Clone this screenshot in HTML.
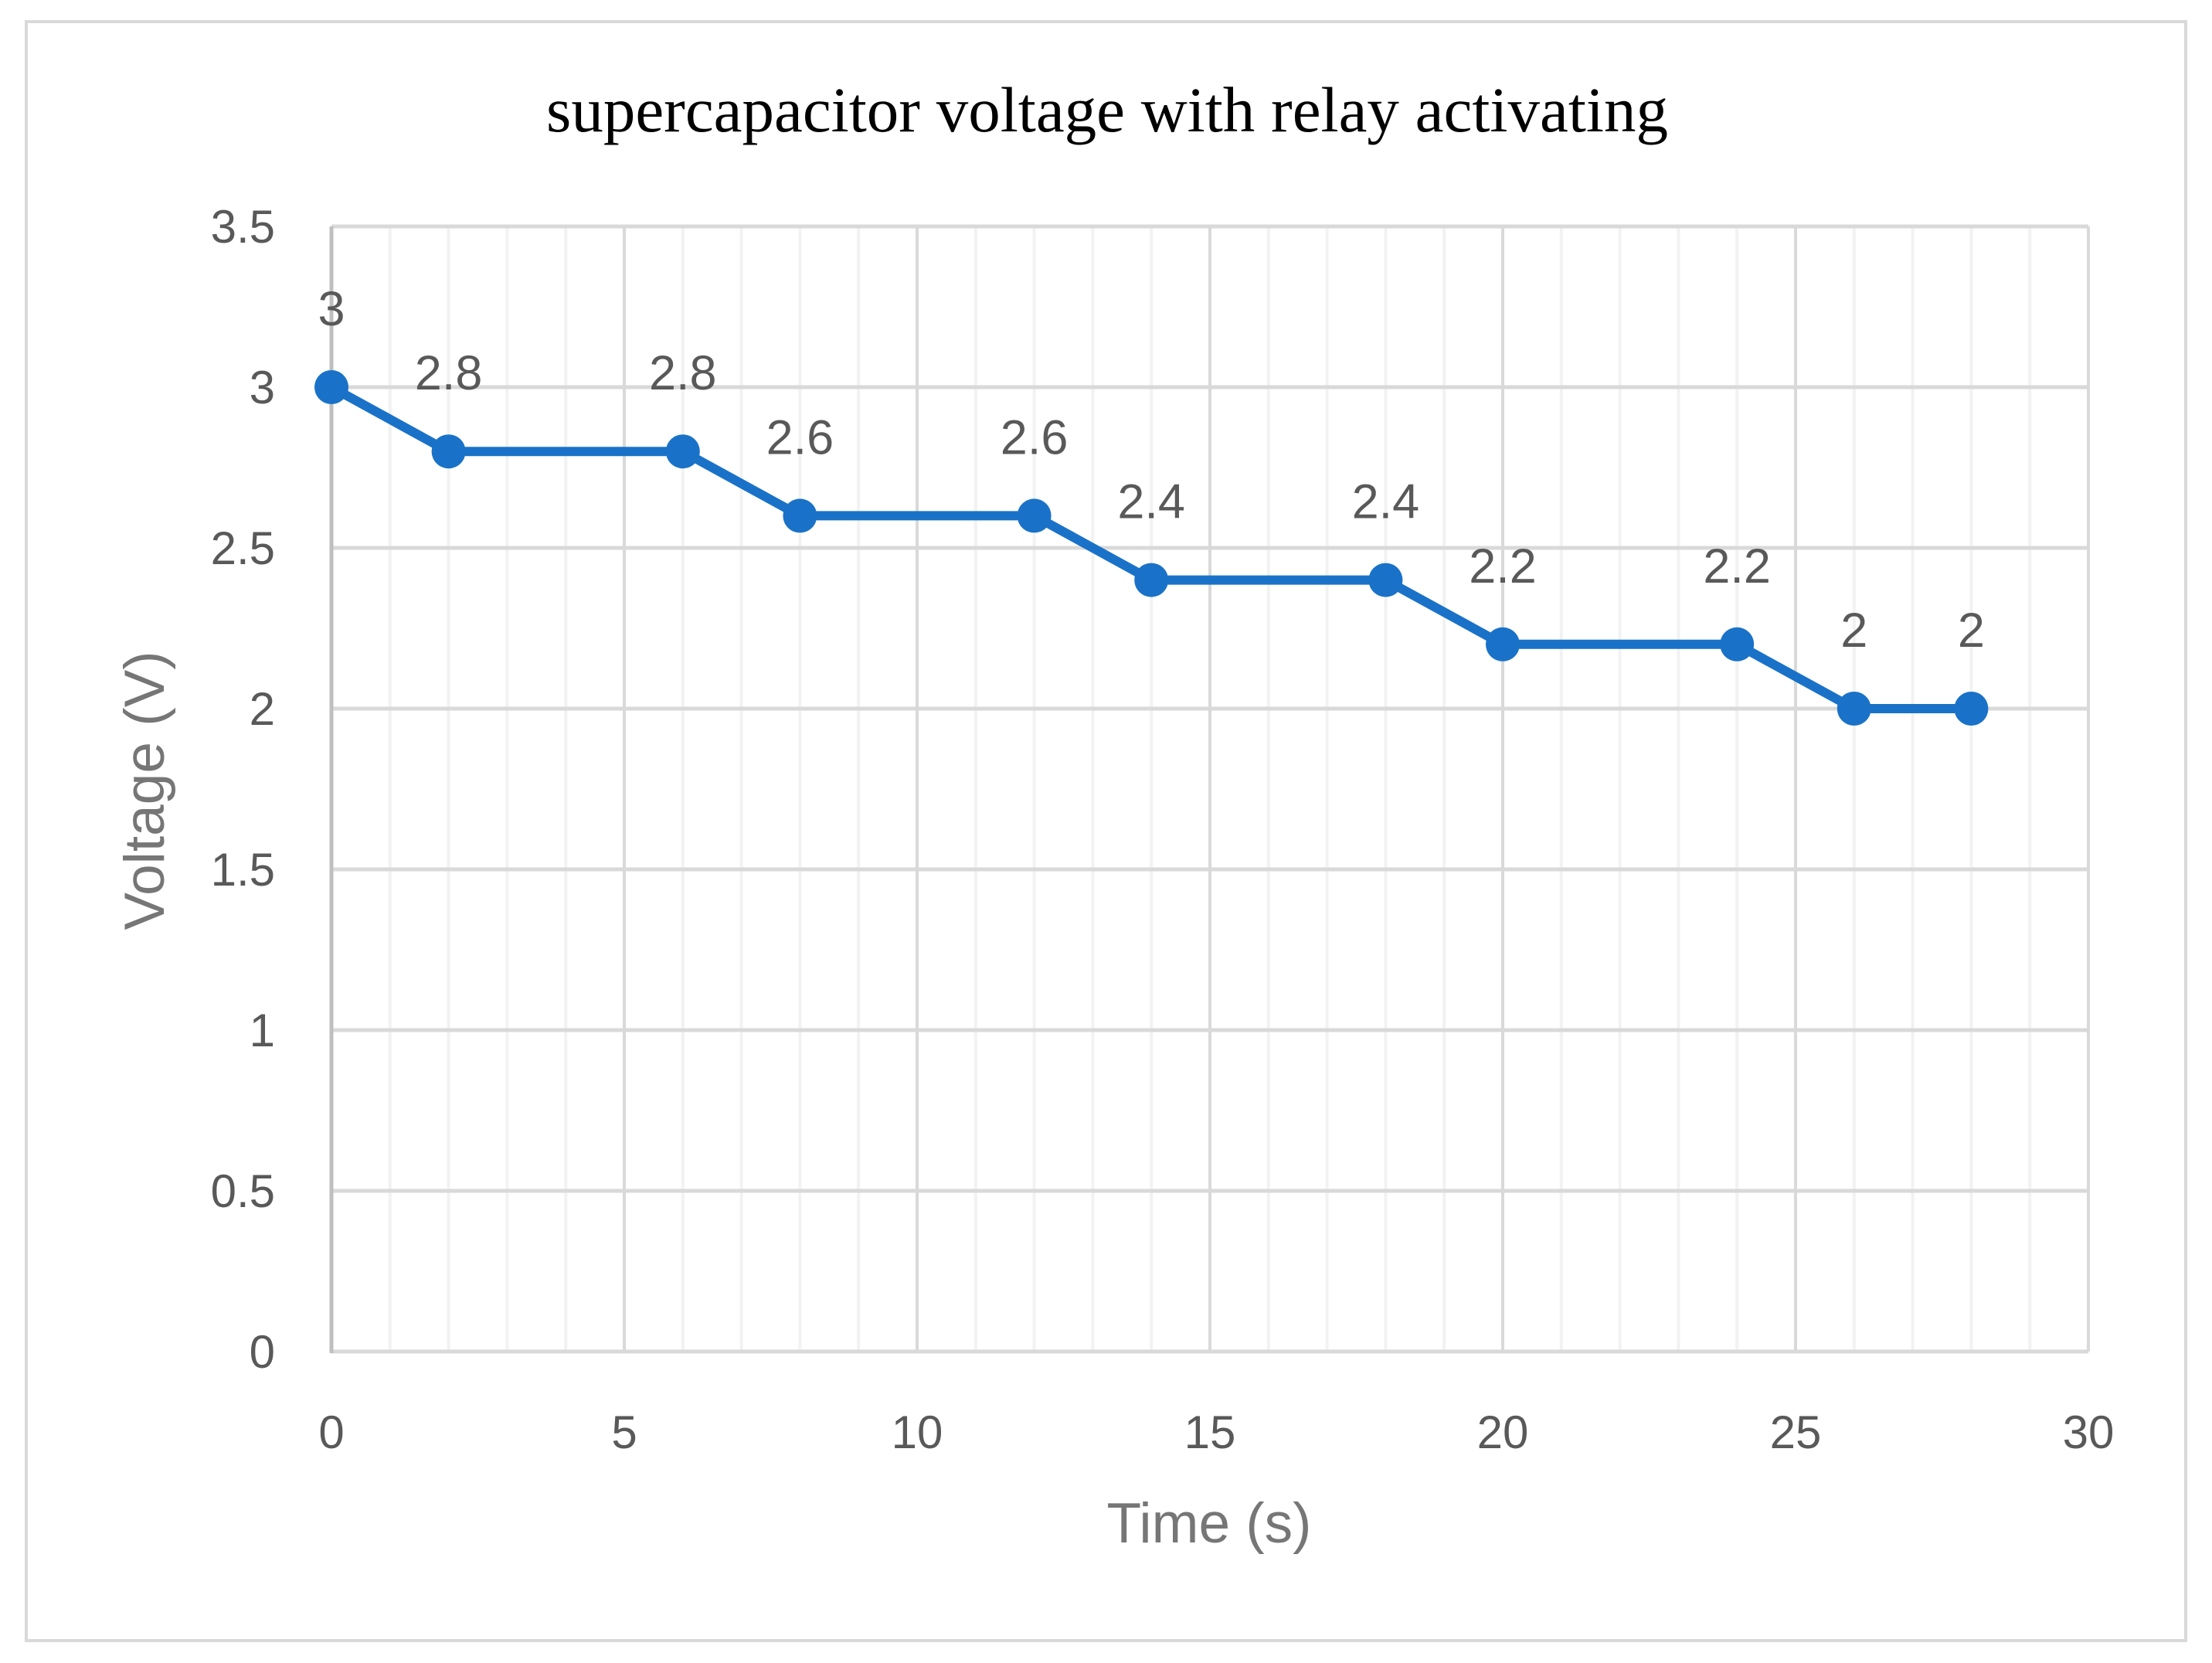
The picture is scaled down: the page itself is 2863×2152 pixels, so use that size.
<!DOCTYPE html>
<html><head><meta charset="utf-8"><style>
html,body{margin:0;padding:0;background:#fff;}
svg{display:block;}
</style></head><body>
<svg id="chart" width="2863" height="2152" viewBox="0 0 2863 2152" xmlns="http://www.w3.org/2000/svg">
<rect x="34" y="28" width="2795" height="2095" fill="#fff" stroke="#d9d9d9" stroke-width="4"/>
<text x="1433" y="170" text-anchor="middle" font-family="Liberation Serif, serif" font-size="83" fill="#000">supercapacitor voltage with relay activating</text>
<g id="grid"></g>
<g id="axes"></g>
<g id="series"></g>
<text x="1565" y="1996" text-anchor="middle" font-family="Liberation Sans, sans-serif" font-size="73" fill="#767676">Time (s)</text>
<text transform="translate(212,1023) rotate(-90)" text-anchor="middle" font-family="Liberation Sans, sans-serif" font-size="73" fill="#767676">Voltage (V)</text>
</svg>
<script>
const times = [0, 2, 6, 8, 12, 14, 18, 20, 24, 26, 28];
const voltages = [3, 2.8, 2.8, 2.6, 2.6, 2.4, 2.4, 2.2, 2.2, 2, 2];
const xTicks = [0, 5, 10, 15, 20, 25, 30];
const yTicks = [0, 0.5, 1, 1.5, 2, 2.5, 3, 3.5];
const NS = 'http://www.w3.org/2000/svg';
const X0 = 429, X1 = 2703, Y0 = 1749, Y1 = 293;
function sx(v){ return X0 + (v - 0) / 30 * (X1 - X0); }
function sy(v){ return Y0 - (v - 0) / 3.5 * (Y0 - Y1); }
function mk(tag, attrs, parent){ const e = document.createElementNS(NS, tag); for (const k in attrs) e.setAttribute(k, attrs[k]); parent.appendChild(e); return e; }
const grid = document.getElementById('grid');
const axes = document.getElementById('axes');
const series = document.getElementById('series');
for (let t = 1; t < 30; t++) {
  if (t % 5 === 0) continue;
  const l = mk('line', {x1: sx(t), x2: sx(t), y1: Y1, y2: Y0, stroke: '#f2f2f2', 'stroke-width': 4}, grid);
  
  
}
xTicks.forEach(t => {
  if (t !== 0) {
    const l = mk('line', {x1: sx(t), x2: sx(t), y1: Y1, y2: Y0, stroke: '#d9d9d9', 'stroke-width': 4}, grid);
    
    
  }
  const tx = mk('text', {x: sx(t), y: 1874, 'text-anchor': 'middle', 'font-family': 'Liberation Sans, sans-serif', 'font-size': 60, fill: '#595959'}, axes);
  tx.textContent = t;
  
  
});
yTicks.forEach(v => {
  const l = mk('line', {x1: X0, x2: X1, y1: sy(v), y2: sy(v), stroke: '#d9d9d9', 'stroke-width': 5}, grid);
  
  
  const tx = mk('text', {x: 356, y: sy(v) + 21, 'text-anchor': 'end', 'font-family': 'Liberation Sans, sans-serif', 'font-size': 60, fill: '#595959'}, axes);
  tx.textContent = v;
  
  
});
const ax = mk('line', {x1: X0, x2: X0, y1: Y1, y2: Y0 + 2, stroke: '#bfbfbf', 'stroke-width': 5}, axes);


const pts = times.map((t, i) => sx(t) + ',' + sy(voltages[i])).join(' ');
const pl = mk('polyline', {points: pts, fill: 'none', stroke: '#1a72c8', 'stroke-width': 12, 'stroke-linejoin': 'round'}, series);


times.forEach((t, i) => {
  const c = mk('circle', {cx: sx(t), cy: sy(voltages[i]), r: 22, fill: '#1a72c8'}, series);
  
  
  const lb = mk('text', {x: sx(t), y: sy(voltages[i]) - 80, 'text-anchor': 'middle', 'font-family': 'Liberation Sans, sans-serif', 'font-size': 63, fill: '#595959'}, series);
  lb.textContent = voltages[i];
  
  
});
</script>
</body></html>
